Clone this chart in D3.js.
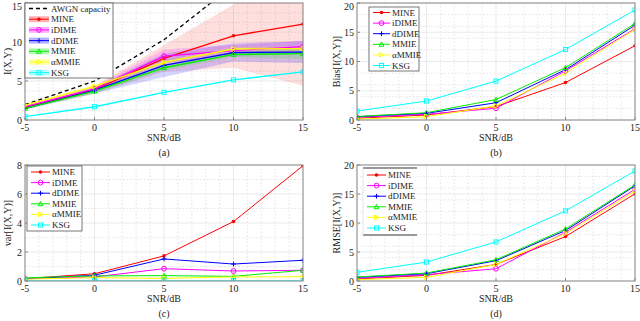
<!DOCTYPE html>
<html><head><meta charset="utf-8">
<script src="https://cdn.jsdelivr.net/npm/d3@7"></script>
<style>
body{margin:0;background:#fff;}
svg text{font-family:"Liberation Serif","Times New Roman",serif;fill:#222;}
</style></head>
<body><svg id="chart" width="640" height="321"></svg>
<script>
const snr = [-5, 0, 5, 10, 15];
const methods = ["MINE", "iDIME", "dDIME", "MMIE", "αMMIE", "KSG"];
const colors = ["#ff0000", "#ff00ff", "#0000ff", "#00ee00", "#ffff00", "#00ffff"];
const markers = ["dot", "circle", "plus", "triUp", "triRight", "square"];
const awgnCapacity = [1.98, 5.0, 10.29, 17.30, 25.13];
// I(X,Y) estimates (panel a), one row per method
const miValues = [
  [1.57, 3.9, 7.9, 10.8, 12.3],
  [1.7, 4.0, 8.2, 8.9, 9.4],
  [1.5, 3.8, 7.0, 8.65, 8.7],
  [1.5, 3.7, 6.7, 8.4, 8.5],
  [1.9, 4.3, 7.4, 9.1, 9.15],
  [0.43, 1.7, 3.55, 5.15, 6.17]
];
const miBandLow = [
  [1.4, 3.4, 6.2, 6.7, 4.4],
  [1.55, 3.7, 7.35, 8.2, 8.65],
  [1.35, 3.4, 5.5, 7.5, 7.3],
  [1.3, 3.35, 6.35, 8.1, 7.75],
  [1.75, 4.05, 7.2, 8.8, 8.85],
  null
];
const miBandHigh = [
  [1.75, 4.4, 9.6, 14.8, 20.2],
  [1.85, 4.3, 9.05, 9.6, 10.15],
  [1.65, 4.2, 8.5, 9.8, 10.1],
  [1.7, 4.05, 7.05, 8.7, 9.25],
  [2.05, 4.55, 7.6, 9.4, 9.45],
  null
];
const biasValues = [
  [0.3, 0.85, 2.3, 6.4, 12.7],
  [0.45, 0.97, 2.0, 8.4, 15.6],
  [0.57, 1.14, 2.95, 8.6, 16.2],
  [0.6, 1.25, 3.5, 8.95, 16.5],
  [0.15, 0.57, 2.4, 8.0, 15.5],
  [1.53, 3.24, 6.65, 12.05, 18.8]
];
const varValues = [
  [0.16, 0.5, 1.73, 4.1, 7.95],
  [0.15, 0.28, 0.85, 0.69, 0.74],
  [0.15, 0.4, 1.52, 1.17, 1.43],
  [0.22, 0.35, 0.37, 0.32, 0.74],
  [0.13, 0.23, 0.18, 0.28, 0.3],
  [0.01, 0.01, 0.01, 0.01, 0.01]
];
const rmseValues = [
  [0.35, 0.97, 2.86, 7.66, 15.03],
  [0.46, 1.09, 2.11, 8.4, 15.8],
  [0.63, 1.26, 3.5, 8.7, 16.4],
  [0.69, 1.37, 3.66, 8.97, 16.57],
  [0.23, 0.63, 2.86, 8.2, 15.5],
  [1.5, 3.26, 6.74, 12.1, 18.97]
];
const xTicks = [-5, 0, 5, 10, 15];
const yTicksA = [0, 5, 10, 15];
const yTicksB = [0, 5, 10, 15, 20];
const yTicksC = [0, 2, 4, 6, 8];
const yTicksD = [0, 5, 10, 15, 20];

const svg = d3.select("#chart");

function drawMarker(g, type, x, y, color) {
  const s = 2.4;
  if (type === "dot") {
    g.append("circle").attr("cx", x).attr("cy", y).attr("r", 1.8).attr("fill", color);
  } else if (type === "circle") {
    g.append("circle").attr("cx", x).attr("cy", y).attr("r", s).attr("fill", "none").attr("stroke", color).attr("stroke-width", 1);
  } else if (type === "plus") {
    g.append("path").attr("d", `M${x - s},${y}H${x + s}M${x},${y - s}V${y + s}`).attr("stroke", color).attr("stroke-width", 1);
  } else if (type === "triUp") {
    g.append("path").attr("d", `M${x},${y - s}L${x + s},${y + s * 0.8}L${x - s},${y + s * 0.8}Z`).attr("fill", "none").attr("stroke", color).attr("stroke-width", 1);
  } else if (type === "triRight") {
    g.append("path").attr("d", `M${x + s},${y}L${x - s * 0.8},${y - s}L${x - s * 0.8},${y + s}Z`).attr("fill", "none").attr("stroke", color).attr("stroke-width", 1);
  } else if (type === "square") {
    g.append("rect").attr("x", x - s * 0.85).attr("y", y - s * 0.85).attr("width", s * 1.7).attr("height", s * 1.7).attr("fill", "none").attr("stroke", color).attr("stroke-width", 1);
  }
}

function panel(cfg) {
  const {id, left, right, top, bottom, yMax, yTicks, yMinor, series, ylabel, caption} = cfg;
  const x = d3.scaleLinear().domain([-5, 15]).range([left, right]);
  const y = d3.scaleLinear().domain([0, yMax]).range([bottom, top]);
  const g = svg.append("g");
  g.append("rect").attr("x", left).attr("y", top).attr("width", right - left).attr("height", bottom - top).attr("fill", "#fff");
  const clipId = "clip" + id;
  svg.append("clipPath").attr("id", clipId).append("rect")
    .attr("x", left).attr("y", top).attr("width", right - left).attr("height", bottom - top);
  // minor grid
  const minorX = d3.range(-5, 15.001, 1).filter(v => !xTicks.includes(v));
  const minorY = d3.range(0, yMax + 0.001, yMinor).filter(v => !yTicks.some(t => Math.abs(t - v) < 1e-6));
  g.selectAll(null).data(minorX).join("line")
    .attr("x1", d => x(d)).attr("x2", d => x(d)).attr("y1", top).attr("y2", bottom)
    .attr("stroke", "#d8d8d8").attr("stroke-width", 0.7).attr("stroke-dasharray", "1.5,2");
  g.selectAll(null).data(minorY).join("line")
    .attr("y1", d => y(d)).attr("y2", d => y(d)).attr("x1", left).attr("x2", right)
    .attr("stroke", "#d8d8d8").attr("stroke-width", 0.7).attr("stroke-dasharray", "1.5,2");
  // major grid
  g.selectAll(null).data(xTicks).join("line")
    .attr("x1", d => x(d)).attr("x2", d => x(d)).attr("y1", top).attr("y2", bottom)
    .attr("stroke", "#e6e6e6").attr("stroke-width", 0.8);
  g.selectAll(null).data(yTicks).join("line")
    .attr("y1", d => y(d)).attr("y2", d => y(d)).attr("x1", left).attr("x2", right)
    .attr("stroke", "#e6e6e6").attr("stroke-width", 0.8);

  const inner = g.append("g").attr("clip-path", `url(#${clipId})`);
  if (cfg.bands) {
    cfg.bands.low.forEach((low, i) => {
      if (!low) return;
      const high = cfg.bands.high[i];
      const area = d3.area().x((d, j) => x(snr[j])).y0((d, j) => y(low[j])).y1((d, j) => y(high[j]));
      inner.append("path").datum(low).attr("d", area).attr("fill", colors[i]).attr("fill-opacity", i === 0 ? 0.13 : 0.17);
    });
  }
  if (cfg.capacity) {
    const line = d3.line().x((d, j) => x(snr[j])).y(d => y(d));
    inner.append("path").datum(cfg.capacity).attr("d", line).attr("fill", "none")
      .attr("stroke", "#000").attr("stroke-width", 1.3).attr("stroke-dasharray", "4,3");
  }
  const lineGen = d3.line().x((d, j) => x(snr[j])).y(d => y(d));
  series.forEach((vals, i) => {
    inner.append("path").datum(vals).attr("d", lineGen).attr("fill", "none")
      .attr("stroke", colors[i]).attr("stroke-width", cfg.lw || 1);
  });
  series.forEach((vals, i) => {
    vals.forEach((v, j) => drawMarker(inner, markers[i], x(snr[j]), y(v), colors[i]));
  });

  // axes frame
  g.append("rect").attr("x", left).attr("y", top).attr("width", right - left).attr("height", bottom - top)
    .attr("fill", "none").attr("stroke", "#8a8a8a").attr("stroke-width", 1);
  // ticks
  g.selectAll(null).data(xTicks).join("line")
    .attr("x1", d => x(d)).attr("x2", d => x(d)).attr("y1", bottom).attr("y2", bottom - 3)
    .attr("stroke", "#8a8a8a");
  g.selectAll(null).data(yTicks).join("line")
    .attr("y1", d => y(d)).attr("y2", d => y(d)).attr("x1", left).attr("x2", left + 3)
    .attr("stroke", "#8a8a8a");
  g.selectAll(null).data(xTicks).join("text")
    .attr("x", d => x(d)).attr("y", bottom + 10.5).attr("text-anchor", "middle")
    .attr("font-size", 10).text(d => d);
  g.selectAll(null).data(yTicks).join("text")
    .attr("x", left - 3).attr("y", d => Math.max(y(d) + 3.5, 10)).attr("text-anchor", "end")
    .attr("font-size", 10).text(d => d);
  g.append("text").attr("x", (left + right) / 2).attr("y", bottom + 21).attr("text-anchor", "middle")
    .attr("font-size", 10).text("SNR/dB");
  g.append("text").attr("x", (left + right) / 2).attr("y", bottom + 36).attr("text-anchor", "middle")
    .attr("font-size", 10).text(caption);
  g.append("text").attr("transform", `translate(${cfg.ylabelX},${(top + bottom) / 2}) rotate(-90)`)
    .attr("text-anchor", "middle").attr("font-size", 10).text(ylabel);

  // legend
  const L = cfg.legend;
  const lg = g.append("g");
  if (L.style === "box") {
    lg.append("rect").attr("x", L.x).attr("y", L.y).attr("width", L.w).attr("height", L.h)
      .attr("fill", "#fff").attr("stroke", "#555").attr("stroke-width", 0.8);
  } else {
    lg.append("rect").attr("x", L.x).attr("y", L.y).attr("width", L.w).attr("height", L.h)
      .attr("fill", "#fff").attr("stroke", "none");
    lg.append("line").attr("x1", L.x).attr("x2", L.x + L.w).attr("y1", L.y).attr("y2", L.y).attr("stroke", "#999").attr("stroke-width", 2);
    lg.append("line").attr("x1", L.x).attr("x2", L.x + L.w).attr("y1", L.y + L.h).attr("y2", L.y + L.h).attr("stroke", "#999").attr("stroke-width", 2);
    lg.append("line").attr("x1", L.x).attr("x2", L.x).attr("y1", L.y).attr("y2", L.y + L.h).attr("stroke", "#ddd").attr("stroke-width", 0.8);
  }
  let row = 0;
  const rowY = r => L.y + L.first + r * L.step;
  if (cfg.capacity) {
    lg.append("line").attr("x1", L.x + 4).attr("x2", L.x + L.lineLen + 4).attr("y1", rowY(0)).attr("y2", rowY(0))
      .attr("stroke", "#000").attr("stroke-width", 1.3).attr("stroke-dasharray", "4,3");
    lg.append("text").attr("x", L.x + L.lineLen + 6).attr("y", rowY(0) + 3).attr("font-size", 9).text("AWGN capacity");
    row = 1;
  }
  methods.forEach((m, i) => {
    const yy = rowY(row + i);
    if (L.patch) {
      lg.append("line").attr("x1", L.x + 4).attr("x2", L.x + L.lineLen + 4).attr("y1", yy).attr("y2", yy)
        .attr("stroke", colors[i]).attr("stroke-opacity", 0.3).attr("stroke-width", 6);
    }
    lg.append("line").attr("x1", L.x + 4).attr("x2", L.x + L.lineLen + 4).attr("y1", yy).attr("y2", yy)
      .attr("stroke", colors[i]).attr("stroke-width", 1);
    drawMarker(lg, markers[i], L.x + 4 + L.lineLen / 2, yy, colors[i]);
    lg.append("text").attr("x", L.x + L.lineLen + 6).attr("y", yy + 3).attr("font-size", 9).text(m);
  });
}

panel({id: "a", left: 25, right: 303, top: 3, bottom: 120, yMax: 15, yTicks: yTicksA, yMinor: 1.25,
  series: miValues, bands: {low: miBandLow, high: miBandHigh}, capacity: awgnCapacity, lw: 1.3,
  ylabel: "I(X,Y)", ylabelX: 11, caption: "(a)",
  legend: {style: "box", x: 25, y: 3, w: 88, h: 75, first: 5.5, step: 10.7, lineLen: 20, patch: true}});
panel({id: "b", left: 357, right: 635, top: 3, bottom: 120, yMax: 20, yTicks: yTicksB, yMinor: 2,
  series: biasValues, ylabel: "Bias[I(X,Y)]", ylabelX: 340, caption: "(b)",
  legend: {style: "box", x: 369, y: 7, w: 50, h: 64, first: 5.5, step: 10.6, lineLen: 17}});
panel({id: "c", left: 25, right: 303, top: 165, bottom: 281, yMax: 8, yTicks: yTicksC, yMinor: 1,
  series: varValues, ylabel: "var[I(X,Y)]", ylabelX: 11, caption: "(c)",
  legend: {style: "box", x: 27, y: 166, w: 55, h: 65, first: 6, step: 10.6, lineLen: 19}});
panel({id: "d", left: 357, right: 635, top: 165, bottom: 281, yMax: 20, yTicks: yTicksD, yMinor: 2,
  series: rmseValues, ylabel: "RMSE[I(X,Y)]", ylabelX: 340, caption: "(d)",
  legend: {style: "rule", x: 363, y: 168, w: 54, h: 67, first: 7, step: 10.6, lineLen: 19}});
</script></body></html>
